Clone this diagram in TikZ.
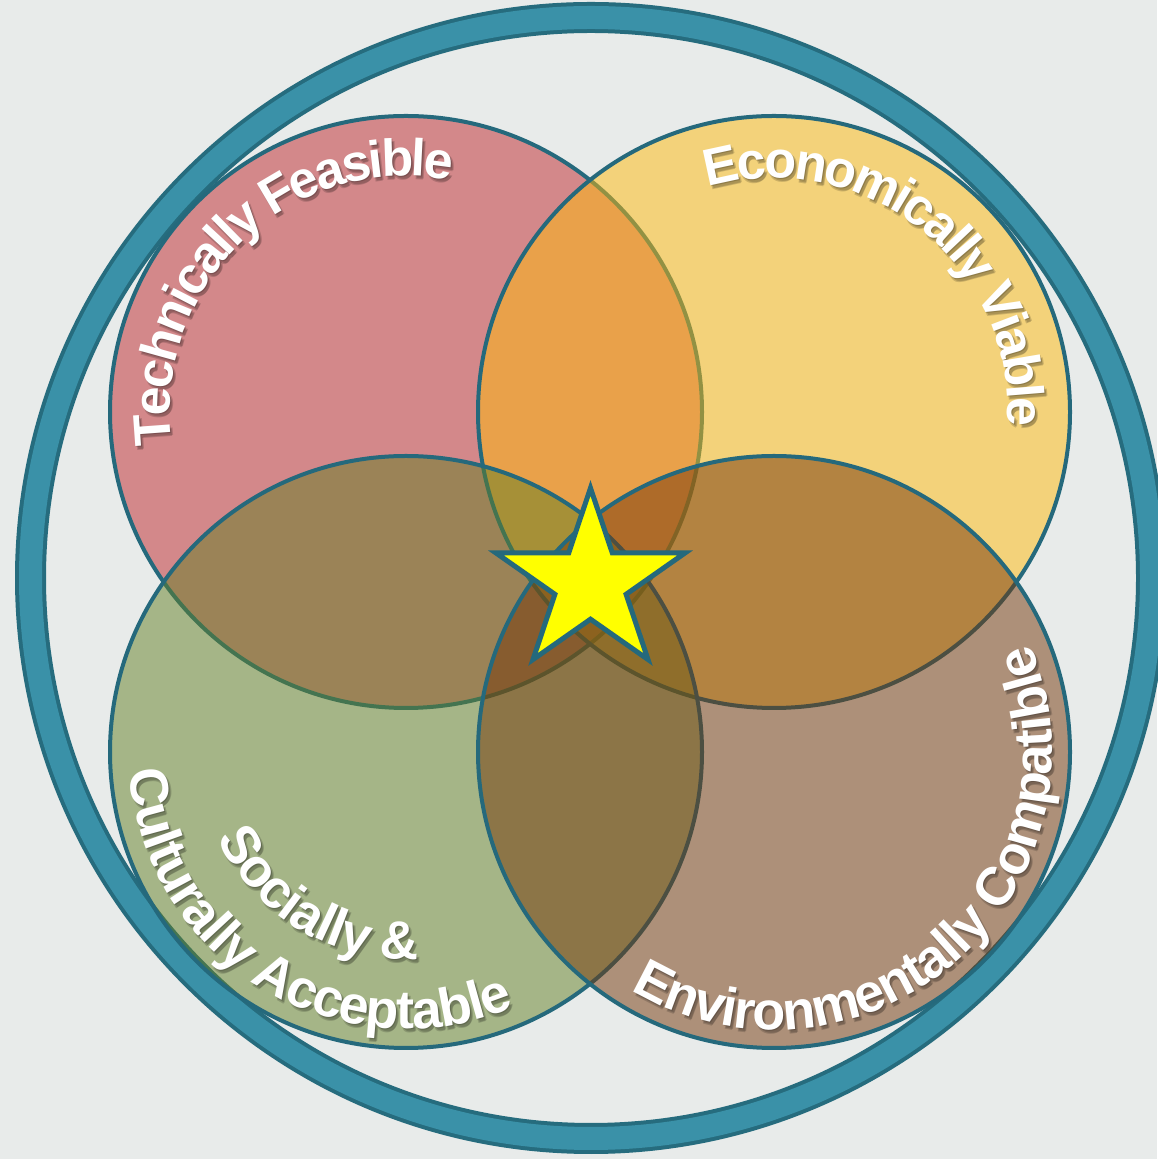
\documentclass[tikz,border=0pt]{standalone}
\usepackage{fontspec}
\setmainfont{Liberation Sans}
\usetikzlibrary{decorations.text}
\definecolor{bgc}{RGB}{232,235,234}
\definecolor{ringdark}{RGB}{38,108,126}
\definecolor{ringlight}{RGB}{58,145,168}
\definecolor{edgec}{RGB}{37,105,124}
\definecolor{redf}{RGB}{192,38,43}
\definecolor{yelf}{RGB}{255,186,11}
\definecolor{grnf}{RGB}{100,128,37}
\definecolor{brnf}{RGB}{116,54,9}
\definecolor{starf}{RGB}{255,255,0}
\newcommand\fA{\fontsize{52}{56}\selectfont\bfseries}
\newcommand\fB{\fontsize{54}{58}\selectfont\bfseries}
\tikzset{
  venn/.style={circle, inner sep=0pt, outer sep=0pt, minimum size=592pt,
    draw=edgec, line width=4pt, fill=#1, fill opacity=0.5},
  curvlbl/.style n args={3}{decorate, decoration={text effects along path, text align=center,
      text effects/.cd, text along path,
      characters={font=#1, text=#2},
      character widths={font=#1, inner xsep=#3}}},
  starstyle/.style={fill=starf, draw=edgec, line width=5pt, line join=miter},
}
\newcommand\alllabels[3]{%
  \path[curvlbl={\fA}{#1}{-1.5pt}, decoration={text={Technically Feasible}}]
    ([shift={(200:236pt)}, xshift=#2, yshift=#3]red.center) arc[start angle=200, end angle=67, radius=236pt];
  \path[curvlbl={\fA}{#1}{-1.5pt}, decoration={text={Economically Viable}}]
    ([shift={(118:234pt)}, xshift=#2, yshift=#3]yel.center) arc[start angle=118, end angle=-15, radius=234pt];
  \path[curvlbl={\fB}{#1}{-0.6pt}, decoration={text={Culturally Acceptable}}]
    ([shift={(164:277pt)}, xshift=#2, yshift=#3]grn.center) arc[start angle=164, end angle=313, radius=277pt];
  \path[curvlbl={\fB}{#1}{-0.5pt}, decoration={text={Socially {\&}}}]
    ([shift={(180:207pt)}, xshift=#2, yshift=#3]grn.center) arc[start angle=180, end angle=298, radius=207pt];
  \path[curvlbl={\fB}{#1}{-0.6pt}, decoration={text={Environmentally Compatible}}]
    ([shift={(222:278pt)}, xshift=#2, yshift=#3]brn.center) arc[start angle=222, end angle=400, radius=278pt];
}
\begin{document}
\begin{tikzpicture}[x=1pt, y=1pt]
  \fill[bgc] (0,0) rectangle (1157,1159);
  \useasboundingbox (0,0) rectangle (1157,1159);
  % outer ring
  \coordinate (ringc) at (591,581);
  \draw[ringdark, line width=31pt] (ringc) circle[radius=560.5pt];
  \draw[ringlight, line width=23pt] (ringc) circle[radius=560.5pt];
  % four circles
  \node[venn=redf] (red) at (406,747) {};
  \node[venn=yelf] (yel) at (774,747) {};
  \node[venn=grnf] (grn) at (406,407) {};
  \node[venn=brnf] (brn) at (774,407) {};
  % star
  \draw[starstyle] (590.5,671) -- (612.3,606) -- (685,606) -- (626.1,564.7) -- (648,499.5)
    -- (590.5,539.8) -- (533,499.5) -- (554.9,564.7) -- (496,606) -- (568.7,606) -- cycle;
  % labels with soft shadow
  \begin{scope}[opacity=0.16]
    \alllabels{black}{1pt}{-1pt}
    \alllabels{black}{3pt}{-3pt}
    \alllabels{black}{2pt}{-4pt}
  \end{scope}
  \alllabels{white}{0pt}{0pt}
\end{tikzpicture}
\end{document}
